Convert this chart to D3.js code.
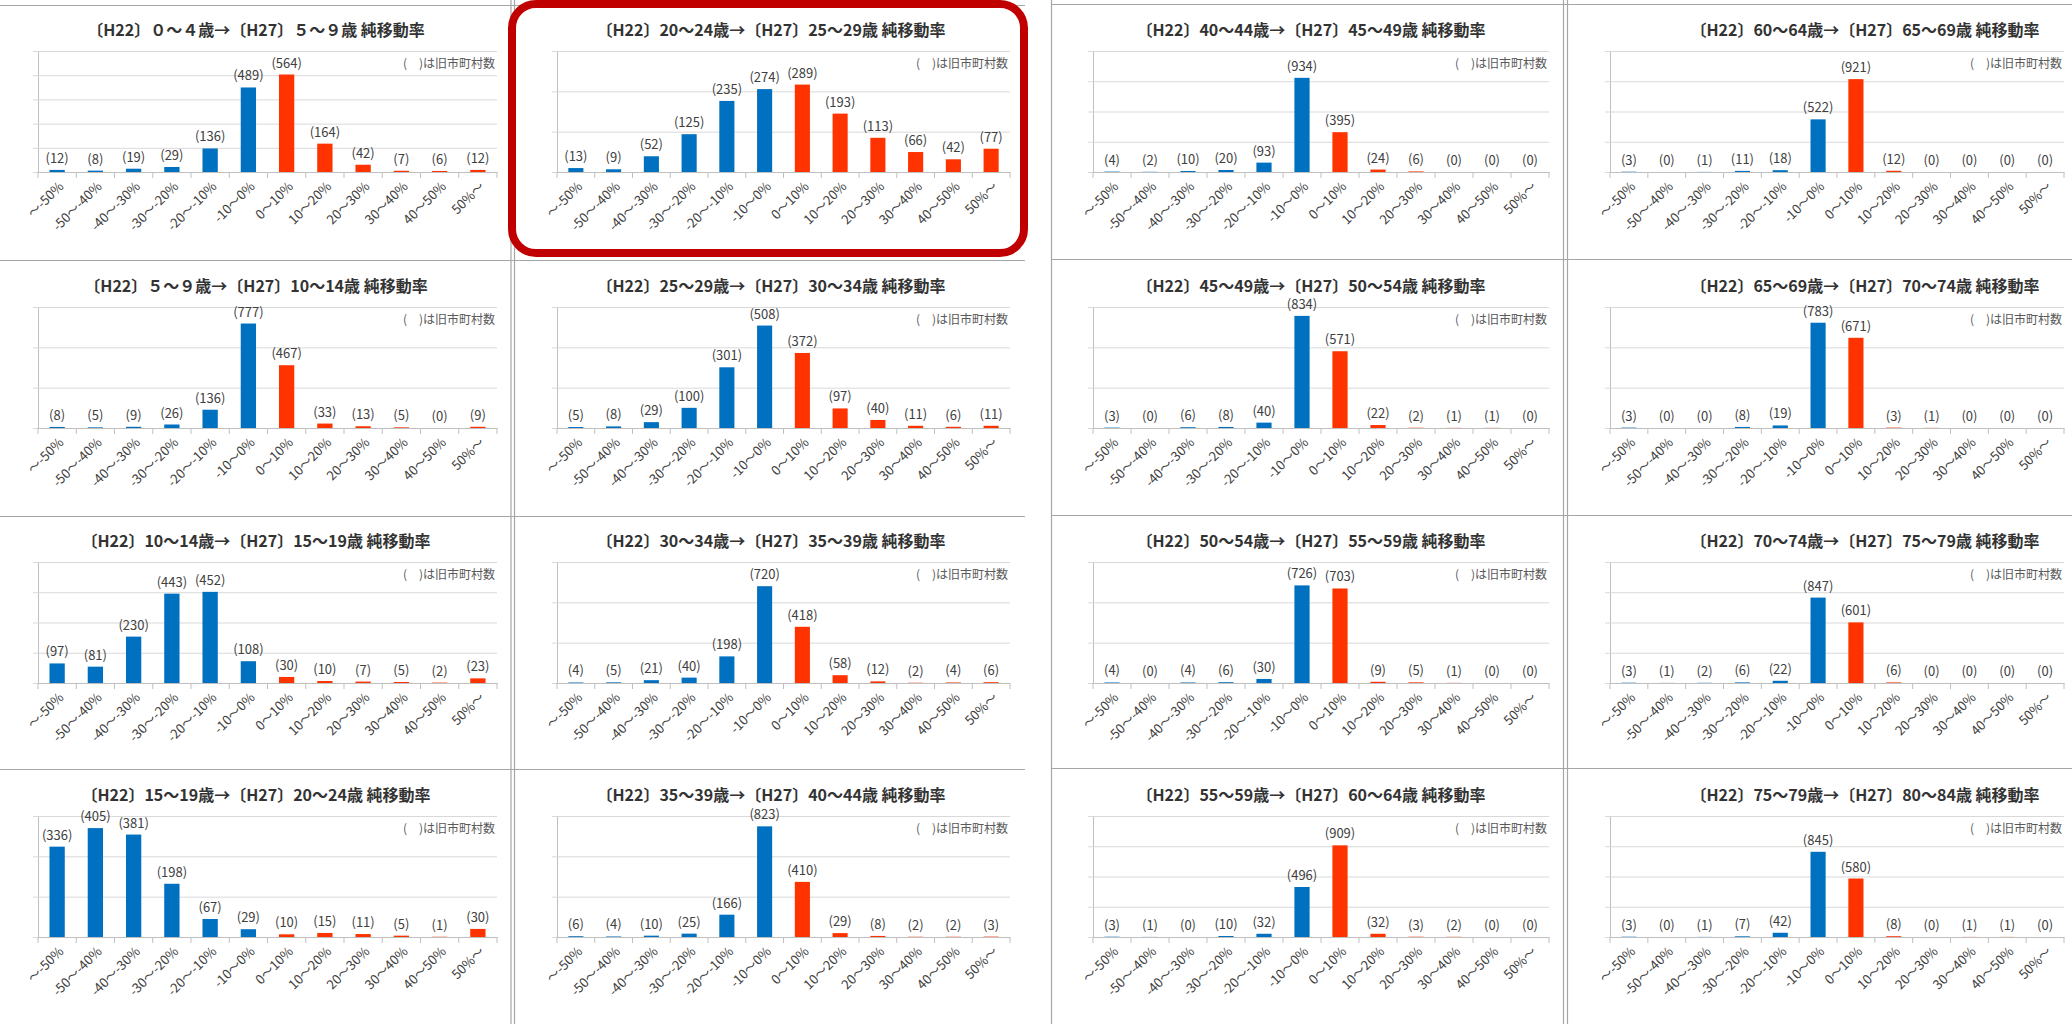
<!DOCTYPE html>
<html><head><meta charset="utf-8">
<script src="https://cdn.jsdelivr.net/npm/d3@7"></script>
<style>
html,body{margin:0;padding:0;background:#fff;}
svg{display:block;font-family:"Noto Sans CJK JP","Noto Sans",sans-serif;}
</style></head>
<body>
<script>
// ---------- data ----------
const categories = ["～-50%","-50～-40%","-40～-30%","-30～-20%","-20～-10%","-10～0%","0～10%","10～20%","20～30%","30～40%","40～50%","50%～"];

const titles = [
  "〔H22〕０～４歳→〔H27〕５～９歳 純移動率",
  "〔H22〕５～９歳→〔H27〕10～14歳 純移動率",
  "〔H22〕10～14歳→〔H27〕15～19歳 純移動率",
  "〔H22〕15～19歳→〔H27〕20～24歳 純移動率",
  "〔H22〕20～24歳→〔H27〕25～29歳 純移動率",
  "〔H22〕25～29歳→〔H27〕30～34歳 純移動率",
  "〔H22〕30～34歳→〔H27〕35～39歳 純移動率",
  "〔H22〕35～39歳→〔H27〕40～44歳 純移動率",
  "〔H22〕40～44歳→〔H27〕45～49歳 純移動率",
  "〔H22〕45～49歳→〔H27〕50～54歳 純移動率",
  "〔H22〕50～54歳→〔H27〕55～59歳 純移動率",
  "〔H22〕55～59歳→〔H27〕60～64歳 純移動率",
  "〔H22〕60～64歳→〔H27〕65～69歳 純移動率",
  "〔H22〕65～69歳→〔H27〕70～74歳 純移動率",
  "〔H22〕70～74歳→〔H27〕75～79歳 純移動率",
  "〔H22〕75～79歳→〔H27〕80～84歳 純移動率"
];

const age00 = [12, 8, 19, 29, 136, 489, 564, 164, 42, 7, 6, 12];
const age05 = [8, 5, 9, 26, 136, 777, 467, 33, 13, 5, 0, 9];
const age10 = [97, 81, 230, 443, 452, 108, 30, 10, 7, 5, 2, 23];
const age15 = [336, 405, 381, 198, 67, 29, 10, 15, 11, 5, 1, 30];
const age20 = [13, 9, 52, 125, 235, 274, 289, 193, 113, 66, 42, 77];
const age25 = [5, 8, 29, 100, 301, 508, 372, 97, 40, 11, 6, 11];
const age30 = [4, 5, 21, 40, 198, 720, 418, 58, 12, 2, 4, 6];
const age35 = [6, 4, 10, 25, 166, 823, 410, 29, 8, 2, 2, 3];
const age40 = [4, 2, 10, 20, 93, 934, 395, 24, 6, 0, 0, 0];
const age45 = [3, 0, 6, 8, 40, 834, 571, 22, 2, 1, 1, 0];
const age50 = [4, 0, 4, 6, 30, 726, 703, 9, 5, 1, 0, 0];
const age55 = [3, 1, 0, 10, 32, 496, 909, 32, 3, 2, 0, 0];
const age60 = [3, 0, 1, 11, 18, 522, 921, 12, 0, 0, 0, 0];
const age65 = [3, 0, 0, 8, 19, 783, 671, 3, 1, 0, 0, 0];
const age70 = [3, 1, 2, 6, 22, 847, 601, 6, 0, 0, 0, 0];
const age75 = [3, 0, 1, 7, 42, 845, 580, 8, 0, 1, 1, 0];

const panelValues = [age00, age05, age10, age15, age20, age25, age30, age35,
                     age40, age45, age50, age55, age60, age65, age70, age75];

// value-axis maximum and number of gridline intervals per panel
const axisMax   = [700, 900, 600, 450, 400, 600, 900, 900, 1200, 900, 900, 1200, 1200, 900, 1200, 1200];
const axisSteps = [5, 3, 4, 3, 3, 3, 3, 3, 4, 3, 3, 4, 4, 3, 4, 4];

const noteText = "(　)は旧市町村数";

// ---------- layout ----------
const W = 2072, H = 1024;
const colX = [0, 513, 1051, 1568];
const colTitleCx = [256, 258, 260, 297];
const colPlotL = [38, 44, 42, 42];
const colPlotR = [497, 497, 498, 496];
const rowY = [5, 261, 516, 770];
const plotTop = 46, plotBottom = 167;

const BLUE = "#0070C0", RED = "#FF3300";
const GRID = "#D9D9D9", AXIS = "#BFBFBF", BORDER = "#A6A6A6";

const svg = d3.select("body").append("svg").attr("width", W).attr("height", H);
svg.append("rect").attr("width", W).attr("height", H).attr("fill", "#fff");

panelValues.forEach((vals, i) => {
  const col = Math.floor(i / 4), row = i % 4;
  const g = svg.append("g").attr("transform", `translate(${colX[col]},${rowY[row]})`);
  const pl = colPlotL[col], pr = colPlotR[col];

  const x = d3.scaleBand().domain(categories).range([pl, pr]).paddingInner(0.6).paddingOuter(0.3);
  const y = d3.scaleLinear().domain([0, axisMax[i]]).range([plotBottom, plotTop]);
  const step = axisMax[i] / axisSteps[i];
  const ticks = d3.range(0, axisMax[i] + step / 2, step);

  // title
  g.append("text").attr("x", colTitleCx[col]).attr("y", 31)
    .attr("text-anchor", "middle").attr("font-size", 16).attr("font-weight", 700)
    .attr("fill", "#333333").text(titles[i]);

  // gridlines + value axis
  const ya = g.append("g").attr("transform", `translate(${pl},0)`)
    .call(d3.axisLeft(y).tickValues(ticks).tickSizeInner(-(pr - pl)).tickSizeOuter(0).tickFormat(""));
  ya.selectAll(".tick line").attr("stroke", GRID).attr("x1", -5);
  ya.select(".domain").attr("stroke", AXIS);

  // category axis
  const xa = g.append("g").attr("transform", `translate(0,${plotBottom})`)
    .call(d3.axisBottom(x).tickSize(0).tickFormat(""));
  xa.select(".domain").attr("stroke", AXIS);
  const bounds = categories.map(c => x(c) + x.bandwidth() / 2 - x.step() / 2).concat([pr]);
  g.selectAll(".xtick").data(bounds).join("line")
    .attr("x1", d => d).attr("x2", d => d)
    .attr("y1", plotBottom).attr("y2", plotBottom + 6)
    .attr("stroke", AXIS);

  // bars
  g.selectAll(".bar").data(vals).join("rect")
    .attr("x", (d, k) => x(categories[k]))
    .attr("width", x.bandwidth())
    .attr("y", d => y(d))
    .attr("height", d => plotBottom - y(d))
    .attr("fill", (d, k) => k < 6 ? BLUE : RED);

  // data labels
  g.selectAll(".lbl").data(vals).join("text")
    .attr("x", (d, k) => x(categories[k]) + x.bandwidth() / 2)
    .attr("y", d => y(d) - 7)
    .attr("text-anchor", "middle").attr("font-size", 13).attr("fill", "#404040")
    .text(d => `(${d})`);

  // note
  g.append("text").attr("x", pr - 2).attr("y", plotTop + 17)
    .attr("text-anchor", "end").attr("font-size", 12).attr("fill", "#595959")
    .text(noteText);

  // category labels
  g.selectAll(".cat").data(categories).join("text")
    .attr("transform", c => `translate(${x(c) + x.bandwidth() / 2 + 4},${plotBottom + 12}) rotate(-45)`)
    .attr("dy", "0.35em")
    .attr("text-anchor", "end").attr("font-size", 13).attr("fill", "#404040")
    .text(c => c);
});

// ---------- cell borders ----------
const borders = svg.append("g").attr("stroke", BORDER).attr("stroke-width", 1.2).attr("fill", "none");
[[0, 1025, 5.5], [1051, W, 4.5]].forEach(([x1, x2, yy]) =>
  borders.append("line").attr("x1", x1).attr("x2", x2).attr("y1", yy).attr("y2", yy));
[260.5, 516.5, 769.5].forEach(yy => {
  borders.append("line").attr("x1", 0).attr("x2", 1025).attr("y1", yy).attr("y2", yy);
  borders.append("line").attr("x1", 1051).attr("x2", W).attr("y1", yy - 1).attr("y2", yy - 1);
});
[511, 514.5, 1051.5, 1563.5, 1567.5].forEach(xx =>
  borders.append("line").attr("x1", xx).attr("x2", xx).attr("y1", 0).attr("y2", H));

// highlight box
svg.append("rect").attr("x", 512).attr("y", 4).attr("width", 512).attr("height", 249)
  .attr("rx", 24).attr("ry", 24)
  .attr("fill", "none").attr("stroke", "#C00000").attr("stroke-width", 8);
</script>
</body></html>
